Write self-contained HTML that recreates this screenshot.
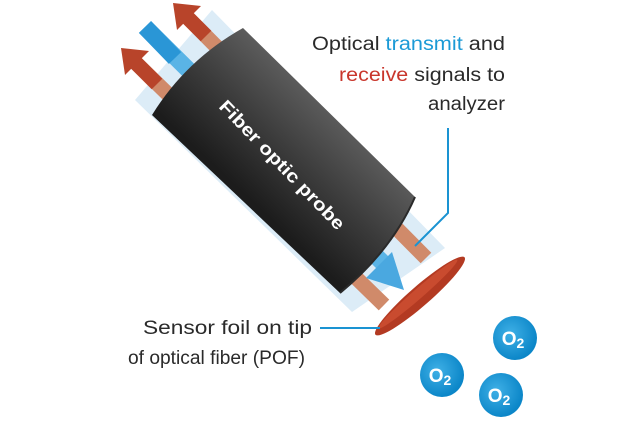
<!DOCTYPE html>
<html><head><meta charset="utf-8"><style>
html,body{margin:0;padding:0;background:#fff;width:640px;height:425px;overflow:hidden}
svg{display:block}
text{font-family:"Liberation Sans",sans-serif}
</style></head><body>
<svg width="640" height="425" viewBox="0 0 640 425">
<defs>
<linearGradient id="body" gradientUnits="userSpaceOnUse" x1="330" y1="105" x2="245" y2="195">
<stop offset="0" stop-color="#5e5e5e"/><stop offset="0.5" stop-color="#3c3c3c"/><stop offset="1" stop-color="#1c1c1c"/>
</linearGradient>
<radialGradient id="o2" cx="0.4" cy="0.4" r="0.6">
<stop offset="0" stop-color="#3fb0e6"/><stop offset="1" stop-color="#0b86c8"/>
</radialGradient>
</defs>
<!-- cladding -->
<polygon points="135,100 212,10 445,248 352,312" fill="#dcecf7"/>
<!-- upper red fiber -->
<line x1="188" y1="18" x2="426" y2="258" stroke="#d08a6a" stroke-width="15"/>
<line x1="188" y1="18" x2="206" y2="36" stroke="#b8442a" stroke-width="15"/>
<polygon points="173,3 201,6 177,30" fill="#b8442a"/>
<!-- lower red fiber -->
<line x1="136" y1="63" x2="384" y2="305" stroke="#d08a6a" stroke-width="15"/>
<line x1="136" y1="63" x2="157" y2="84" stroke="#b8442a" stroke-width="15"/>
<polygon points="121,48 149,51 125,75" fill="#b8442a"/>
<!-- blue fiber -->
<line x1="145" y1="27" x2="385" y2="265" stroke="#5ab4e6" stroke-width="17"/>
<line x1="145" y1="27" x2="175" y2="58" stroke="#2a96d6" stroke-width="17"/>
<polygon points="404,290 392,252 366,278" fill="#4aa8e0"/>
<!-- body -->
<path d="M152,115 Q186,60 243,28 L415,197 Q392,250 340,293 Z" fill="url(#body)"/>
<path d="M415,197 Q392,250 340,293" fill="none" stroke="#2a2a2a" stroke-width="2"/>
<text transform="translate(282,165) rotate(46)" x="0" y="6" fill="#fff" font-size="18" font-weight="bold" text-anchor="middle" textLength="172" lengthAdjust="spacingAndGlyphs">Fiber optic probe</text>
<!-- foil -->
<ellipse cx="420" cy="296" rx="59" ry="10" transform="rotate(-41 420 296)" fill="#b33a22"/>
<ellipse cx="418" cy="294" rx="52" ry="5" transform="rotate(-41 418 294)" fill="#c94b2f"/>
<!-- leader lines -->
<polyline points="448,128 448,213 415,246" fill="none" stroke="#1a93d2" stroke-width="2"/>
<line x1="320" y1="328" x2="380" y2="328" stroke="#1a93d2" stroke-width="2"/>
<!-- labels -->
<g font-size="19" fill="#2a2a2a">
<text x="505" y="50" text-anchor="end" textLength="193" lengthAdjust="spacingAndGlyphs">Optical <tspan fill="#1b9ad6">transmit</tspan> and</text>
<text x="505" y="81" text-anchor="end" textLength="166" lengthAdjust="spacingAndGlyphs"><tspan fill="#c9362c">receive</tspan> signals to</text>
<text x="505" y="110" text-anchor="end" textLength="77" lengthAdjust="spacingAndGlyphs">analyzer</text>
<text x="312" y="334" text-anchor="end" textLength="169" lengthAdjust="spacingAndGlyphs">Sensor foil on tip</text>
<text x="305" y="364" text-anchor="end" textLength="177" lengthAdjust="spacingAndGlyphs">of optical fiber (POF)</text>
</g>
<!-- O2 -->
<g font-size="19" fill="#fff" font-weight="bold" text-anchor="middle">
<circle cx="515" cy="338" r="22" fill="url(#o2)"/>
<text x="513" y="345">O<tspan font-size="14" dy="3">2</tspan></text>
<circle cx="442" cy="375" r="22" fill="url(#o2)"/>
<text x="440" y="382">O<tspan font-size="14" dy="3">2</tspan></text>
<circle cx="501" cy="395" r="22" fill="url(#o2)"/>
<text x="499" y="402">O<tspan font-size="14" dy="3">2</tspan></text>
</g>
</svg>
</body></html>
